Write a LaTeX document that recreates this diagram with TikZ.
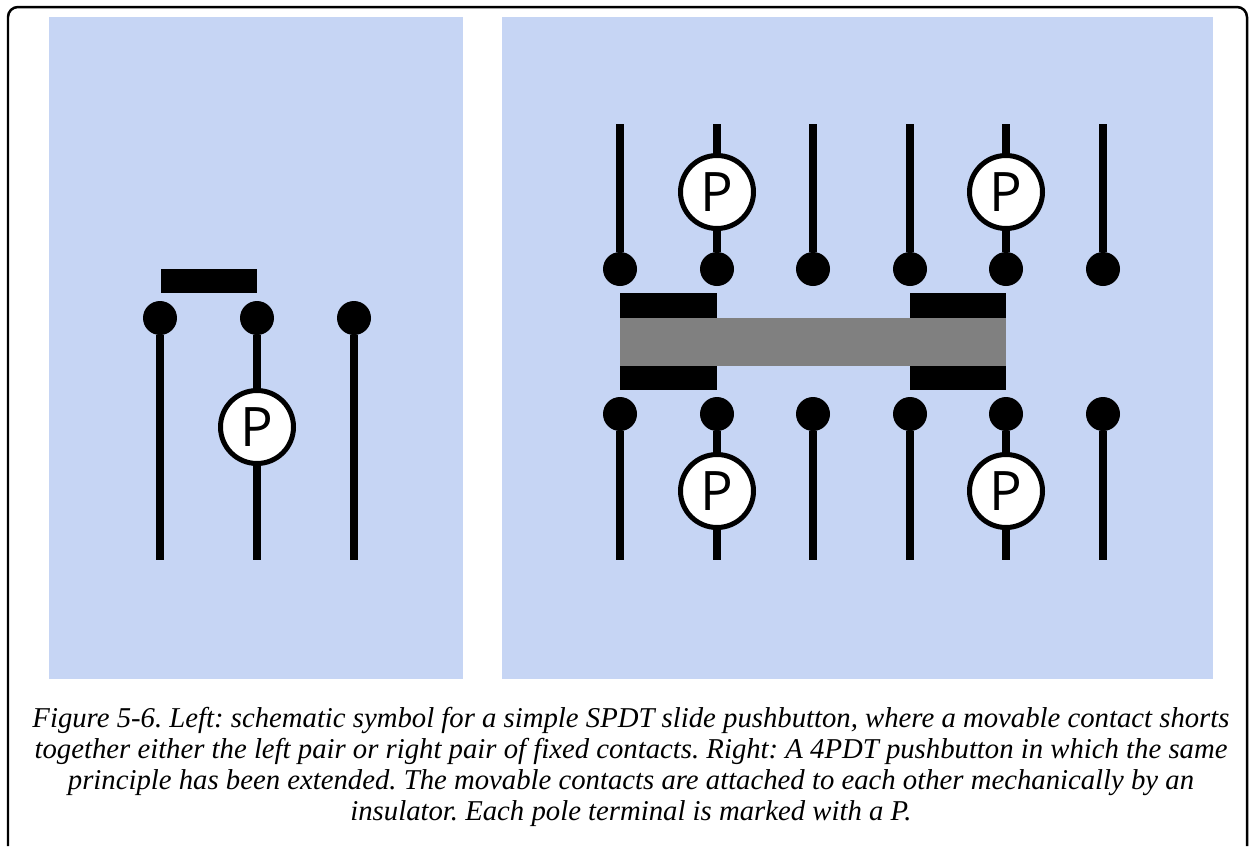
\documentclass[tikz,border=0pt]{standalone}
\usepackage{fontspec}
\setmainfont{Liberation Serif}
\newfontfamily\polefont{Open Sans}
\usepackage{tikz}

\tikzset{
  panel/.style={fill=panelblue,draw=none,inner sep=0pt,outer sep=0pt,anchor=north west},
  contact/.style={circle,fill=black,draw=none,inner sep=0pt,outer sep=0pt,minimum size=.68cm},
  pole/.style={circle,fill=white,draw=black,line width=.1cm,inner sep=0pt,outer sep=0pt,minimum size=1.46cm,font=\polefont\fontsize{31}{31}\selectfont},
  blade/.style={fill=black,draw=none,inner sep=0pt,outer sep=0pt,minimum width=1.93cm,minimum height=.49cm},
  wire/.style={line width=.15cm,line cap=butt},
}
\definecolor{panelblue}{HTML}{C6D5F4}

\begin{document}
\begin{tikzpicture}[x=.02cm,y=-.02cm]
   \useasboundingbox (0,0) rectangle (1250,846);

   % outer frame, open at the bottom
   \coordinate (f0) at (8,846);
   \coordinate (f1) at (1247,846);
   \draw[line width=.05cm,rounded corners=.2cm] (f0) -- (8,7) -- (1247,7) -- (f1);

   \node[panel,minimum width=8.28cm,minimum height=13.24cm] (pl) at (49,17) {};
   \node[panel,minimum width=14.22cm,minimum height=13.24cm] (pr) at (502,17) {};

   % left symbol
   \node[blade] (b0) at (209,281) {};
   \node[contact] (l0) at (160,318) {};
   \node[contact] (l1) at (257,318) {};
   \node[contact] (l2) at (354,318) {};
   \node[pole] (lp) at (257,427) {P};
   \coordinate (le0) at (160,560);
   \coordinate (le1) at (257,560);
   \coordinate (le2) at (354,560);

   \draw[wire] (l0) -- (le0);
   \draw[wire] (l1) -- (lp);
   \draw[wire] (lp) -- (le1);
   \draw[wire] (l2) -- (le2);

   % right symbol, top row
   \node[contact] (t0) at (620,269) {};
   \node[contact] (t1) at (717,269) {};
   \node[contact] (t2) at (813,269) {};
   \node[contact] (t3) at (910,269) {};
   \node[contact] (t4) at (1006,269) {};
   \node[contact] (t5) at (1103,269) {};
   \node[pole] (tp1) at (717,192) {P};
   \node[pole] (tp4) at (1006,192) {P};
   \coordinate (te0) at (620,124);
   \coordinate (te1) at (717,124);
   \coordinate (te2) at (813,124);
   \coordinate (te3) at (910,124);
   \coordinate (te4) at (1006,124);
   \coordinate (te5) at (1103,124);

   \draw[wire] (t0) -- (te0);
   \draw[wire] (t1) -- (tp1);
   \draw[wire] (tp1) -- (te1);
   \draw[wire] (t2) -- (te2);
   \draw[wire] (t3) -- (te3);
   \draw[wire] (t4) -- (tp4);
   \draw[wire] (tp4) -- (te4);
   \draw[wire] (t5) -- (te5);

   % right symbol, blades and insulator
   \node[blade] (b1) at (668.5,305.5) {};
   \node[blade] (b2) at (958,305.5) {};
   \node[blade] (b3) at (668.5,378) {};
   \node[blade] (b4) at (958,378) {};
   \node[fill=gray,inner sep=0pt,minimum width=7.74cm,minimum height=.96cm] (ins) at (813,342) {};

   % right symbol, bottom row
   \node[contact] (u0) at (620,414) {};
   \node[contact] (u1) at (717,414) {};
   \node[contact] (u2) at (813,414) {};
   \node[contact] (u3) at (910,414) {};
   \node[contact] (u4) at (1006,414) {};
   \node[contact] (u5) at (1103,414) {};
   \node[pole] (up1) at (717,491) {P};
   \node[pole] (up4) at (1006,491) {P};
   \coordinate (ue0) at (620,560);
   \coordinate (ue1) at (717,560);
   \coordinate (ue2) at (813,560);
   \coordinate (ue3) at (910,560);
   \coordinate (ue4) at (1006,560);
   \coordinate (ue5) at (1103,560);

   \draw[wire] (u0) -- (ue0);
   \draw[wire] (u1) -- (up1);
   \draw[wire] (up1) -- (ue1);
   \draw[wire] (u2) -- (ue2);
   \draw[wire] (u3) -- (ue3);
   \draw[wire] (u4) -- (up4);
   \draw[wire] (up4) -- (ue4);
   \draw[wire] (u5) -- (ue5);

   \node[align=center,inner sep=0pt,font=\frenchspacing\itshape\fontsize{16.35}{17.64}\selectfont] (cap) at (631,767)
     {Figure 5-6. Left: schematic symbol for a simple SPDT slide pushbutton, where a movable contact shorts\\
      together either the left pair or right pair of fixed contacts. Right: A 4PDT pushbutton in which the same\\
      principle has been extended. The movable contacts are attached to each other mechanically by an\\
      insulator. Each pole terminal is marked with a P.};
\end{tikzpicture}
\end{document}
